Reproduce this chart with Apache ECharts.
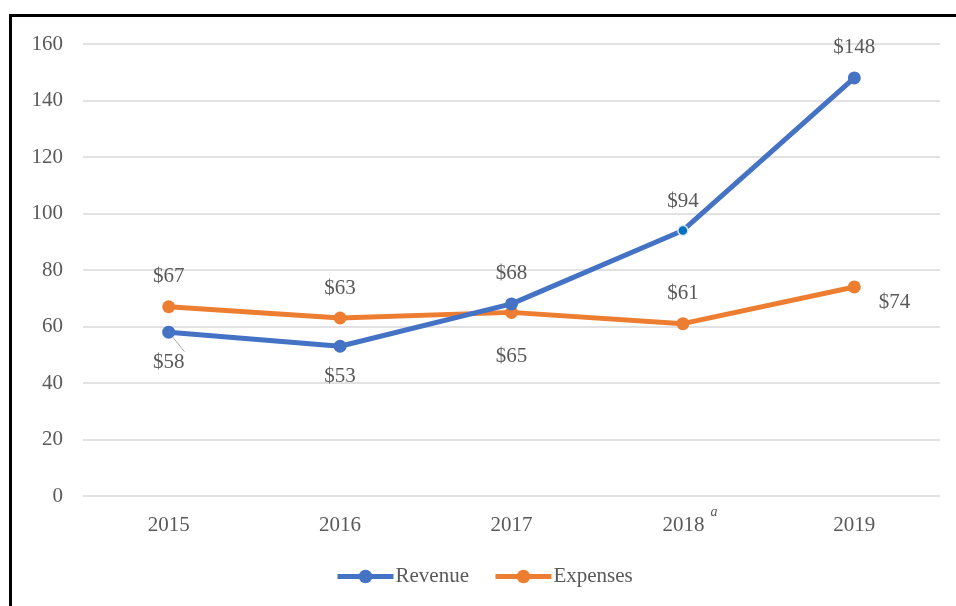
<!DOCTYPE html>
<html>
<head>
<meta charset="utf-8">
<script src="https://cdn.jsdelivr.net/npm/echarts@6/dist/echarts.min.js"></script>
<style>
  html, body { margin: 0; padding: 0; background: #fff; }
  #chart { width: 956px; height: 606px; }
</style>
</head>
<body>
<div id="chart"></div>
<script>
const years = ['2015', '2016', '2017', '2018', '2019'];
const revenue = [58, 53, 68, 94, 148];
const expenses = [67, 63, 65, 61, 74];
// where each value label sits
const revenueLabelPos = ['bottom', 'bottom', 'top', 'top', 'top'];
const expensesLabelPos = ['top', 'top', 'bottom', 'top', 'right'];

const textColor = '#595959';
const font = 'Liberation Serif, Times New Roman, serif';

const buildData = (values, positions, tweak) => values.map((v, i) => {
    const item = {
        value: v,
        label: { position: positions[i] }
    };
    if (positions[i] === 'right') {
        item.label.offset = [5, 16];
    }
    if (tweak && tweak[i]) {
        Object.assign(item, tweak[i]);
        item.label = Object.assign({ position: positions[i] }, tweak[i].label || {});
    }
    return item;
});

const revenueTweaks = [
    { labelLine: { show: true, length2: 0, lineStyle: { color: '#a6a6a6', width: 1 } } },
    null,
    null,
    { symbolSize: 10, itemStyle: { color: '#0070C0', borderColor: '#dce6f5', borderWidth: 1.5 } },
    null
];
const expensesTweaks = [null, null, { label: { offset: [0, 14] } }, null, null];

const chart = echarts.init(document.getElementById('chart'));
chart.setOption({
    animation: false,
    textStyle: { fontFamily: font },
    graphic: [{
        type: 'rect',
        shape: { x: 10.5, y: 15.5, width: 980, height: 640 },
        style: { fill: 'none', stroke: '#000', lineWidth: 3 }
    }],
    grid: { left: 83, right: 16, top: 44, bottom: 110 },
    legend: {
        bottom: 14,
        left: 330,
        itemWidth: 56,
        itemHeight: 17,
        itemGap: 24,
        lineStyle: { width: 5 },
        textStyle: { color: textColor, fontSize: 21, fontFamily: font, padding: [0, 0, 0, -3] }
    },
    xAxis: {
        type: 'category',
        data: years,
        axisLine: { show: false },
        axisTick: { show: false },
        axisLabel: {
            color: textColor,
            verticalAlign: 'bottom',
            margin: 40,
            // 2018 carries a footnote mark
            formatter: v => v === '2018' ? '{y2|' + v + '}{sup|a}' : '{y|' + v + '}',
            rich: {
                y: { fontSize: 21, color: textColor, verticalAlign: 'bottom', lineHeight: 22 },
                y2: { fontSize: 21, color: textColor, verticalAlign: 'bottom', lineHeight: 22, padding: [0, 0, 0, 14] },
                sup: { fontSize: 14, fontStyle: 'italic', color: textColor, verticalAlign: 'top', lineHeight: 31, padding: [0, 0, 0, 6] }
            }
        }
    },
    yAxis: {
        type: 'value',
        min: 0,
        max: 160,
        interval: 20,
        axisLine: { show: false },
        axisTick: { show: false },
        axisLabel: { color: textColor, fontSize: 21, margin: 20 },
        splitLine: { lineStyle: { color: '#d9d9d9', width: 1.5 } }
    },
    series: [{
        name: 'Revenue',
        type: 'line',
        data: buildData(revenue, revenueLabelPos, revenueTweaks),
        symbol: 'circle',
        symbolSize: 13,
        lineStyle: { color: '#4472C4', width: 5 },
        itemStyle: { color: '#4472C4' },
        label: {
            show: true,
            formatter: '${c}',
            color: textColor,
            fontSize: 21,
            distance: 13
        },
        z: 3
    }, {
        name: 'Expenses',
        type: 'line',
        data: buildData(expenses, expensesLabelPos, expensesTweaks),
        symbol: 'circle',
        symbolSize: 13,
        lineStyle: { color: '#ED7D31', width: 5 },
        itemStyle: { color: '#ED7D31' },
        label: {
            show: true,
            formatter: '${c}',
            color: textColor,
            fontSize: 21,
            distance: 13
        },
        z: 2
    }]
});
</script>
</body>
</html>
